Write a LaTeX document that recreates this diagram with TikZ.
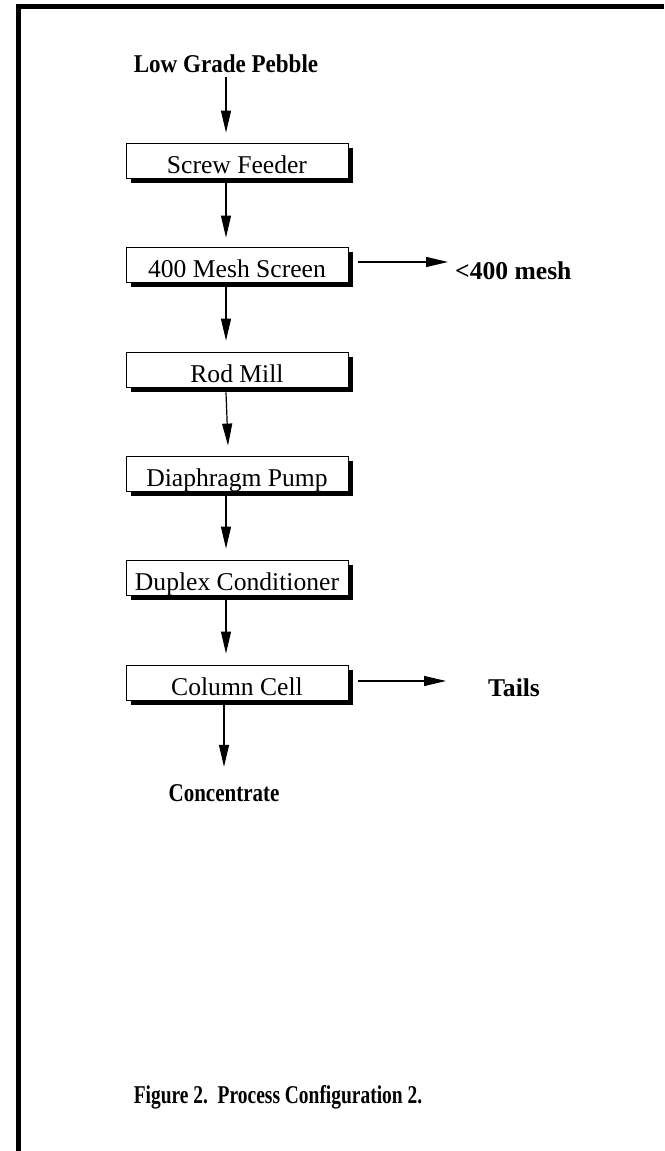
\documentclass[tikz,border=0pt]{standalone}
\usepackage{fontspec}
\setmainfont{Liberation Serif}
\usepackage{graphicx}
\usetikzlibrary{arrows.meta,shadows,calc}
\begin{document}
\begin{tikzpicture}[x=1pt,y=1pt,
  procbox/.style={draw=black, line width=0.8pt, fill=white, minimum width=222pt, minimum height=35pt,
    inner sep=0pt, text height=31pt, text depth=4pt, font=\fontsize{25.6}{30}\selectfont,
    drop shadow={shadow xshift=5pt, shadow yshift=-5pt, fill=black, opacity=1}},
  lbl/.style={inner sep=0pt, font=\fontsize{25.6}{30}\selectfont\bfseries},
  flow/.style={line width=1.2pt, -{Triangle[length=22pt,width=10pt]}}]
\useasboundingbox (0,0) rectangle (664,1151);
% frame
\draw[line width=5pt] (18.5,0) -- (18.5,1144.5) -- (664,1144.5);
% process boxes
\node[procbox] (sf) at (237,990.5) {Screw Feeder};
\node[procbox] (ms) at (237,886.5) {400 Mesh Screen};
\node[procbox] (rm) at (237,781.5) {Rod Mill};
\node[procbox] (dp) at (237,677.5) {Diaphragm Pump};
\node[procbox] (dc) at (237,573.5) {Duplex Conditioner};
\node[procbox] (cc) at (237,468.5) {Column Cell};
% labels
\node[lbl, anchor=base] (peb) at (226,1078) {\scalebox{0.9}[1]{Low Grade Pebble}};
\node[lbl, anchor=base west] (mesh) at (455,871) {<400 mesh};
\node[lbl, anchor=base west] (tails) at (488,454) {Tails};
\node[lbl, anchor=base] (con) at (224,349) {\scalebox{0.82}[1]{Concentrate}};
\node[lbl, anchor=base] (cap) at (278,47) {\scalebox{0.76}[1]{Figure 2.\ \ Process Configuration 2.}};
% connectors
\draw[flow] ([yshift=-4pt]peb.south) -- ([xshift=-11pt,yshift=10pt]sf.north);
\draw[flow] ([xshift=-11pt,yshift=-5pt]sf.south) -- ([xshift=-11pt,yshift=9pt]ms.north);
\draw[flow] ([xshift=-11pt,yshift=-5pt]ms.south) -- ([xshift=-11pt,yshift=11pt]rm.north);
\draw[flow] ([xshift=-11pt,yshift=-5pt]rm.south) -- ([xshift=-9pt,yshift=10pt]dp.north);
\draw[flow] ([xshift=-11pt,yshift=-5pt]dp.south) -- ([xshift=-11pt,yshift=11pt]dc.north);
\draw[flow] ([xshift=-11pt,yshift=-5pt]dc.south) -- ([xshift=-11pt,yshift=11pt]cc.north);
\draw[flow] ([xshift=-13pt,yshift=-5pt]cc.south) -- ([yshift=18pt]con.north);
\draw[flow] ($(ms.east)+(10,2.5)$) -- ($(ms.east -| mesh.west)+(-7,2.5)$);
\draw[flow] ($(cc.east)+(10,1.5)$) -- ($(cc.east -| tails.west)+(-42,1.5)$);
\end{tikzpicture}
\end{document}
